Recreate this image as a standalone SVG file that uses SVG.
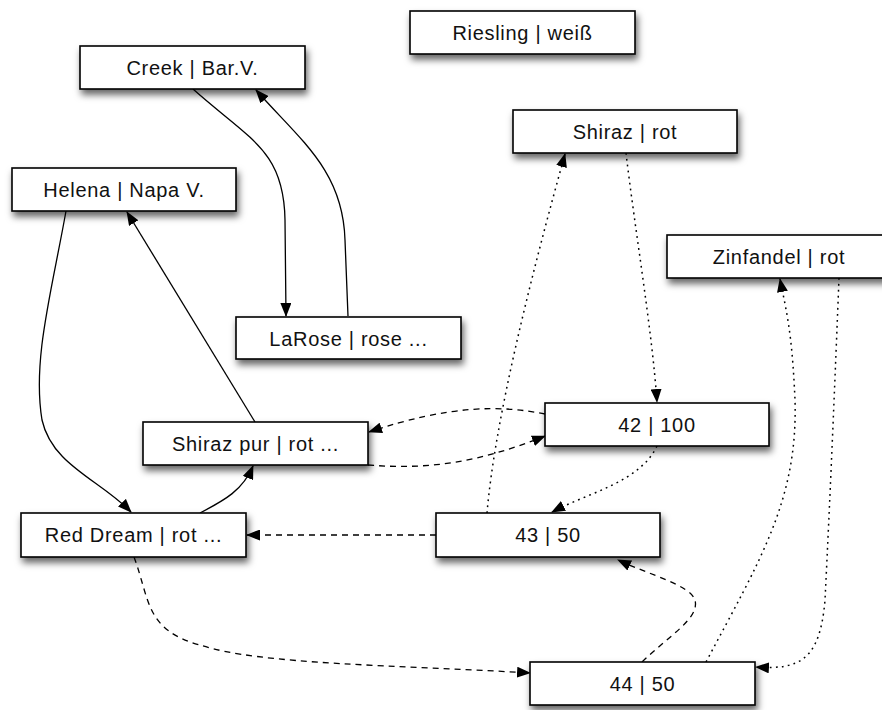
<svg xmlns="http://www.w3.org/2000/svg" width="882" height="710" viewBox="0 0 882 710">
<style>
.box{fill:#fff;stroke:#000;stroke-width:1.6;filter:url(#sh)}
.lbl{font-family:"Liberation Sans",Arial,sans-serif;font-size:20px;fill:#111;text-anchor:middle;letter-spacing:0.7px}
.c{fill:none;stroke:#000;stroke-width:1.3;marker-end:url(#ah)}
.dash{stroke-dasharray:6,5}
.dot{stroke-dasharray:1.8,4.2;stroke-width:1.5}
</style>
<defs>
<filter id="sh" x="-20%" y="-40%" width="140%" height="200%">
<feDropShadow dx="2" dy="5" stdDeviation="3.5" flood-color="#000" flood-opacity="0.6"/>
</filter>
<marker id="ah" viewBox="0 0 14 11" refX="13" refY="5.5" markerWidth="14" markerHeight="11" markerUnits="userSpaceOnUse" orient="auto">
<path d="M0,0 L14,5.5 L0,11 z" fill="#000"/>
</marker>
</defs>
<rect width="882" height="710" fill="#fff"/>
<g id="connectors">
<path class="c" d="M193,89 C250,140 284,150 285,220 L286,316"/>
<path class="c" d="M348,316 L345,240 C343,170 300,140 256,90"/>
<path class="c" d="M66,211 C52,290 32,360 42,420 C52,465 100,480 131,512"/>
<path class="c" d="M255,422 L127,212"/>
<path class="c" d="M200,513 C225,500 243,490 253,466"/>
<path class="c dash" d="M545,414 C500,405 450,405 369,432"/>
<path class="c dash" d="M368,465 C430,470 480,462 545,436"/>
<path class="c dot" d="M626,153 C635,230 652,330 657,402"/>
<path class="c dot" d="M487,513 C495,420 530,280 565,154"/>
<path class="c dot" d="M657,446 C640,482 590,492 552,512"/>
<path class="c dash" d="M436,535 L247,535"/>
<path class="c dash" d="M134,557 C150,600 145,630 200,645 C260,665 400,665 530,673"/>
<path class="c dash" d="M642,662 C670,635 700,618 695,600 C690,585 650,575 618,560"/>
<path class="c dot" d="M706,662 C760,560 798,500 795,400 C792,330 786,310 780,279"/>
<path class="c dot" d="M839,278 C835,380 830,500 825,600 C820,660 800,670 756,667"/>
</g>
<g id="riesling"><rect class="box" x="410" y="11" width="225" height="43"/><text class="lbl" x="522.5" y="40">Riesling | weiß</text></g>
<g id="creek"><rect class="box" x="80" y="46" width="225" height="43"/><text class="lbl" x="192.5" y="75">Creek | Bar.V.</text></g>
<g id="shiraz"><rect class="box" x="513" y="110" width="224" height="43"/><text class="lbl" x="625" y="139">Shiraz | rot</text></g>
<g id="helena"><rect class="box" x="12" y="168" width="224" height="43"/><text class="lbl" x="124" y="197">Helena | Napa V.</text></g>
<g id="zinfandel"><rect class="box" x="667" y="235" width="225" height="43"/><text class="lbl" x="779" y="264">Zinfandel | rot</text></g>
<g id="larose"><rect class="box" x="236" y="317" width="225" height="42"/><text class="lbl" x="348.5" y="345.5">LaRose | rose ...</text></g>
<g id="n42"><rect class="box" x="545" y="403" width="224" height="43"/><text class="lbl" x="657" y="432">42 | 100</text></g>
<g id="shirazpur"><rect class="box" x="143" y="422" width="225" height="43"/><text class="lbl" x="255.5" y="451">Shiraz pur | rot ...</text></g>
<g id="reddream"><rect class="box" x="21" y="513" width="225" height="44"/><text class="lbl" x="133.5" y="542">Red Dream | rot ...</text></g>
<g id="n43"><rect class="box" x="436" y="513" width="224" height="44"/><text class="lbl" x="548" y="542">43 | 50</text></g>
<g id="n44"><rect class="box" x="530" y="662" width="225" height="43"/><text class="lbl" x="642.5" y="691">44 | 50</text></g>
</svg>
